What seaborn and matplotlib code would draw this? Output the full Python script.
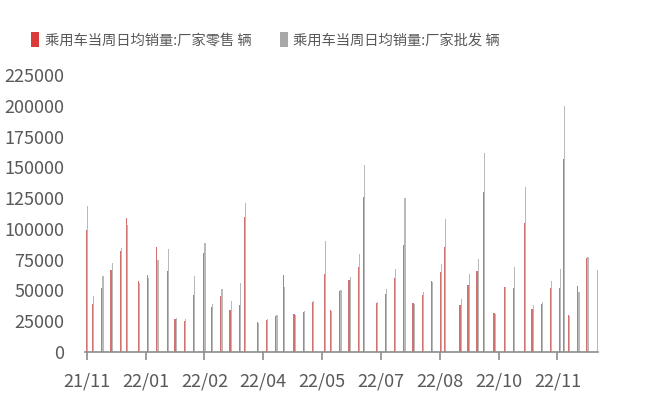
import numpy as np
import pandas as pd
import matplotlib
matplotlib.use("Agg")
import matplotlib.pyplot as plt
import matplotlib.dates as mdates
from matplotlib.patches import Patch
import seaborn as sns

# ---------------- data ----------------
dates = [
    "2021-11-30", "2021-12-05", "2021-12-12", "2021-12-19", "2021-12-26", "2021-12-31",
    "2022-01-09", "2022-01-16", "2022-01-23", "2022-01-31",
    "2022-02-06", "2022-02-13", "2022-02-20", "2022-02-28",
    "2022-03-06", "2022-03-13", "2022-03-20", "2022-03-27", "2022-03-31",
    "2022-04-10", "2022-04-17", "2022-04-24", "2022-04-30",
    "2022-05-08", "2022-05-15", "2022-05-22", "2022-05-31",
    "2022-06-05", "2022-06-12", "2022-06-19", "2022-06-26", "2022-06-30",
    "2022-07-10", "2022-07-17", "2022-07-24", "2022-07-31",
    "2022-08-07", "2022-08-14", "2022-08-21", "2022-08-28", "2022-08-31",
    "2022-09-12", "2022-09-18", "2022-09-25", "2022-09-30",
    "2022-10-08", "2022-10-16", "2022-10-23", "2022-10-31",
    "2022-11-06", "2022-11-13", "2022-11-20", "2022-11-27", "2022-11-30",
    "2022-12-04", "2022-12-11", "2022-12-18", "2022-12-25",
]
retail = [
    99000, 39000, 52000, 66500, 82000, 108800,
    57600, 62500, 85200, 65700,
    26800, 25000, 46300, 80400,
    36500, 45500, 34100, 38100, 109600,
    24000, 26000, 29200, 62500,
    31000, 32500, 41000, 63300,
    34000, 49500, 58400, 69000, 125800,
    39800, 47000, 60000, 86800,
    39800, 46300, 57600, 65000, 85200,
    38200, 54400, 65700, 129900,
    31700, 52800, 52000, 104700,
    34900, 39000, 52000, 52000, 156700,
    30000, 53600, 76000, np.nan,
]
wholesale = [
    118500, 45500, 61700, 72200, 84400, 103000,
    56000, 60000, 74700, 83600,
    27600, 27000, 61700, 88500,
    39000, 51100, 41400, 56000, 121000,
    23500, 26800, 30000, 53000,
    30200, 33300, 41400, 90000,
    33300, 50000, 60900, 79500, 151800,
    40600, 51100, 67400, 125000,
    38900, 48700, 57000, 71400, 108000,
    43000, 63300, 75500, 161500,
    31000, 52500, 69000, 134000,
    38100, 40600, 57600, 67400, 199700,
    29500, 48700, 77100, 66600,
]
series_names = ["乘用车当周日均销量:厂家零售 辆", "乘用车当周日均销量:厂家批发 辆"]
tick_dates = ["2021-11-30", "2022-01-14", "2022-02-28", "2022-04-14", "2022-05-29",
              "2022-07-13", "2022-08-27", "2022-10-11", "2022-11-25"]
tick_labels = ["21/11", "22/01", "22/02", "22/04", "22/05", "22/07", "22/08", "22/10", "22/11"]
y_ticks = [0, 25000, 50000, 75000, 100000, 125000, 150000, 175000, 200000, 225000]

# ---------------- style ----------------
RED = "#D93B3B"
GRAY = "#A8A8A8"
TXT = "#595959"
AX = "#8C8C8C"

sns.set_theme(style="white")
plt.rcParams["font.family"] = ["Noto Sans CJK SC", "DejaVu Sans"]
NUM_FONT = ["Liberation Sans Narrow", "Noto Sans CJK SC", "DejaVu Sans"]

xnum = mdates.date2num(pd.to_datetime(dates))
n = len(dates)
df = pd.DataFrame({
    "x": np.concatenate([xnum, xnum]),
    "value": list(retail) + list(wholesale),
    "series": [series_names[0]] * n + [series_names[1]] * n,
}).dropna()

fig = plt.figure(figsize=(6.48, 4.2), dpi=100)
ax = fig.add_axes([85.2 / 648, 68 / 420, 513 / 648, 277 / 420])

sns.barplot(data=df, x="x", y="value", hue="series", hue_order=series_names,
            palette=[RED, GRAY], native_scale=True, dodge=True, width=0.6,
            linewidth=0, alpha=0.8, legend=False, ax=ax)

x0 = mdates.date2num(pd.Timestamp(dates[0]))
x1 = mdates.date2num(pd.Timestamp(dates[-1]))
ax.set_xlim(x0 - 1.2, x1 + 1.2)
ax.set_ylim(0, 225000)

ax.set_xticks(mdates.date2num(pd.to_datetime(tick_dates)))
ax.set_xticklabels(tick_labels, fontfamily=NUM_FONT, fontsize=13, color=TXT)
ax.set_yticks(y_ticks)
ax.set_yticklabels([str(v) for v in y_ticks], fontfamily=NUM_FONT, fontsize=13, color=TXT)
ax.set_xlabel("")
ax.set_ylabel("")

for s in ["left", "top", "right"]:
    ax.spines[s].set_visible(False)
ax.spines["bottom"].set_color(AX)
ax.spines["bottom"].set_linewidth(1.2)
ax.tick_params(axis="x", direction="out", length=6, width=1.2, color=AX, pad=9, bottom=True)
ax.tick_params(axis="y", length=0, pad=15)
ax.grid(False)

handles = [Patch(facecolor=RED, edgecolor="none"), Patch(facecolor=GRAY, edgecolor="none")]
fig.legend(handles=handles, labels=series_names, loc="center left",
           bbox_to_anchor=(31 / 648, 1 - 40 / 420), ncol=2, frameon=False,
           fontsize=10.3, labelcolor=TXT, handlelength=0.55, handleheight=1.2,
           handletextpad=0.4, columnspacing=2.0, borderpad=0, borderaxespad=0)

fig.savefig("out.png", dpi=100)
